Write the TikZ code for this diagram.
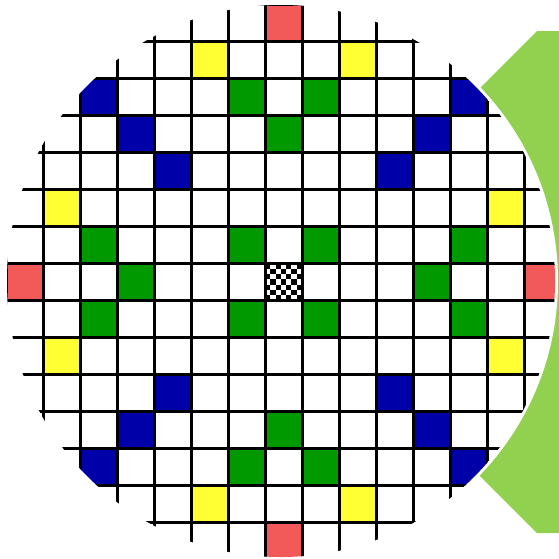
\documentclass[tikz,border=0pt]{standalone}
\definecolor{cred}{HTML}{F25A5A}
\definecolor{cyellow}{HTML}{FFFF33}
\definecolor{cgreen}{HTML}{009A00}
\definecolor{cblue}{HTML}{0000A8}
\definecolor{lgreen}{HTML}{92D050}
\tikzset{
  gridline/.style={black, line width=3pt},
  cellfill/.style={fill=#1}
}
\newcommand{\cellat}[3]{\fill[#1] ({6+37*#2},{4.5+37*#3}) rectangle ++(37,37);}
\begin{document}
\begin{tikzpicture}[x=1pt,y=-1pt]
\useasboundingbox (0,0) rectangle (559,558);
% green chevron behind the disc
\fill[lgreen] (562,31) -- (537,31) -- (286,282) -- (537,533) -- (562,533) -- cycle;
% white disc with white rim
\path[fill=white, draw=white, line width=6pt] (281,281) ellipse [x radius=274, y radius=276];
\begin{scope}
  \clip (281,281) ellipse [x radius=274, y radius=276];
  % red
  \foreach \c/\r in {7/0,0/7,14/7,7/14} {\cellat{cred}{\c}{\r}}
  % yellow
  \foreach \c/\r in {5/1,9/1,1/5,13/5,1/9,13/9,5/13,9/13} {\cellat{cyellow}{\c}{\r}}
  % blue
  \foreach \c/\r in {2/2,3/3,4/4,12/2,11/3,10/4,2/12,3/11,4/10,12/12,11/11,10/10} {\cellat{cblue}{\c}{\r}}
  % green
  \foreach \c/\r in {6/2,8/2,7/3,2/6,2/8,3/7,12/6,12/8,11/7,6/12,8/12,7/11,6/6,8/6,6/8,8/8} {\cellat{cgreen}{\c}{\r}}
  % checkered centre cell
  \fill[black] (265,263.5) rectangle ++(37,37);
  \foreach \i in {0,...,6} {
    \foreach \j in {0,...,6} {
      \pgfmathparse{int(mod(\i+\j,2))}
      \ifnum\pgfmathresult=1
        \fill[white] ({265+37/7*\i},{263.5+37/7*\j}) rectangle ++(37/7,37/7);
      \fi
    }
  }
  % grid lines
  \foreach \k in {0,...,15} {
    \draw[gridline] ({6+37*\k},0) -- ({6+37*\k},560);
    \draw[gridline] (0,{4.5+37*\k}) -- (560,{4.5+37*\k});
  }
\end{scope}
\end{tikzpicture}
\end{document}
